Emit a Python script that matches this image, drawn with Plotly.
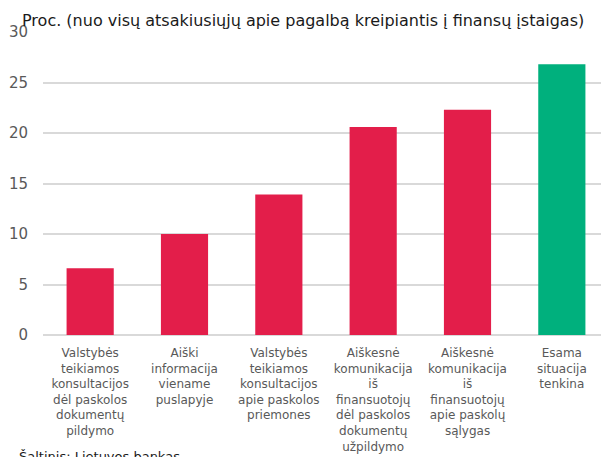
import plotly.graph_objects as go

categories = [
    "Valstybės<br>teikiamos<br>konsultacijos<br>dėl paskolos<br>dokumentų<br>pildymo",
    "Aiški<br>informacija<br>viename<br>puslapyje",
    "Valstybės<br>teikiamos<br>konsultacijos<br>apie paskolos<br>priemones",
    "Aiškesnė<br>komunikacija<br>iš<br>finansuotojų<br>dėl paskolos<br>dokumentų<br>užpildymo",
    "Aiškesnė<br>komunikacija<br>iš<br>finansuotojų<br>apie paskolų<br>sąlygas",
    "Esama<br>situacija<br>tenkina",
]
values = [6.6, 10.0, 13.9, 20.6, 22.3, 26.8]
bar_colors = ["#E31E4A"] * 5 + ["#00B07D"]
y_ticks = [0, 5, 10, 15, 20, 25, 30]
title_text = "Proc. (nuo visų atsakiusiųjų apie pagalbą kreipiantis į finansų įstaigas)"
source_text = "Šaltinis: Lietuvos bankas"

fig = go.Figure(
    go.Bar(
        x=categories,
        y=values,
        marker=dict(color=bar_colors, line=dict(width=0)),
        width=0.5,
    )
)

fig.update_layout(
    width=601,
    height=449,
    margin=dict(l=35, r=0, t=24, b=122),
    plot_bgcolor="white",
    paper_bgcolor="white",
    font=dict(family="DejaVu Sans", color="#595959"),
    showlegend=False,
)
fig.update_yaxes(
    range=[0, 30],
    tickvals=y_ticks,
    showgrid=True,
    gridcolor="#D9D9D9",
    gridwidth=1.5,
    zeroline=True,
    zerolinecolor="#D9D9D9",
    zerolinewidth=1.5,
    showline=False,
    tickfont=dict(size=15, color="#595959"),
    ticks="",
    ticklabelstandoff=14,
)
fig.update_xaxes(
    showgrid=False,
    showline=False,
    ticks="",
    tickfont=dict(size=12, color="#595959"),
    tickangle=0,
    ticklabelstandoff=9,
)
fig.add_annotation(
    text=title_text,
    xref="paper", yref="paper",
    x=-0.041, y=1.0, xanchor="left", yanchor="bottom",
    yshift=0,
    showarrow=False,
    font=dict(size=16, color="#1a1a1a", family="DejaVu Sans"),
)
fig.add_annotation(
    text=source_text,
    xref="paper", yref="paper",
    x=-0.046, y=0, xanchor="left", yanchor="top",
    yshift=-112,
    showarrow=False,
    font=dict(size=13, color="#1a1a1a", family="DejaVu Sans"),
)

fig.write_html("out.html")
